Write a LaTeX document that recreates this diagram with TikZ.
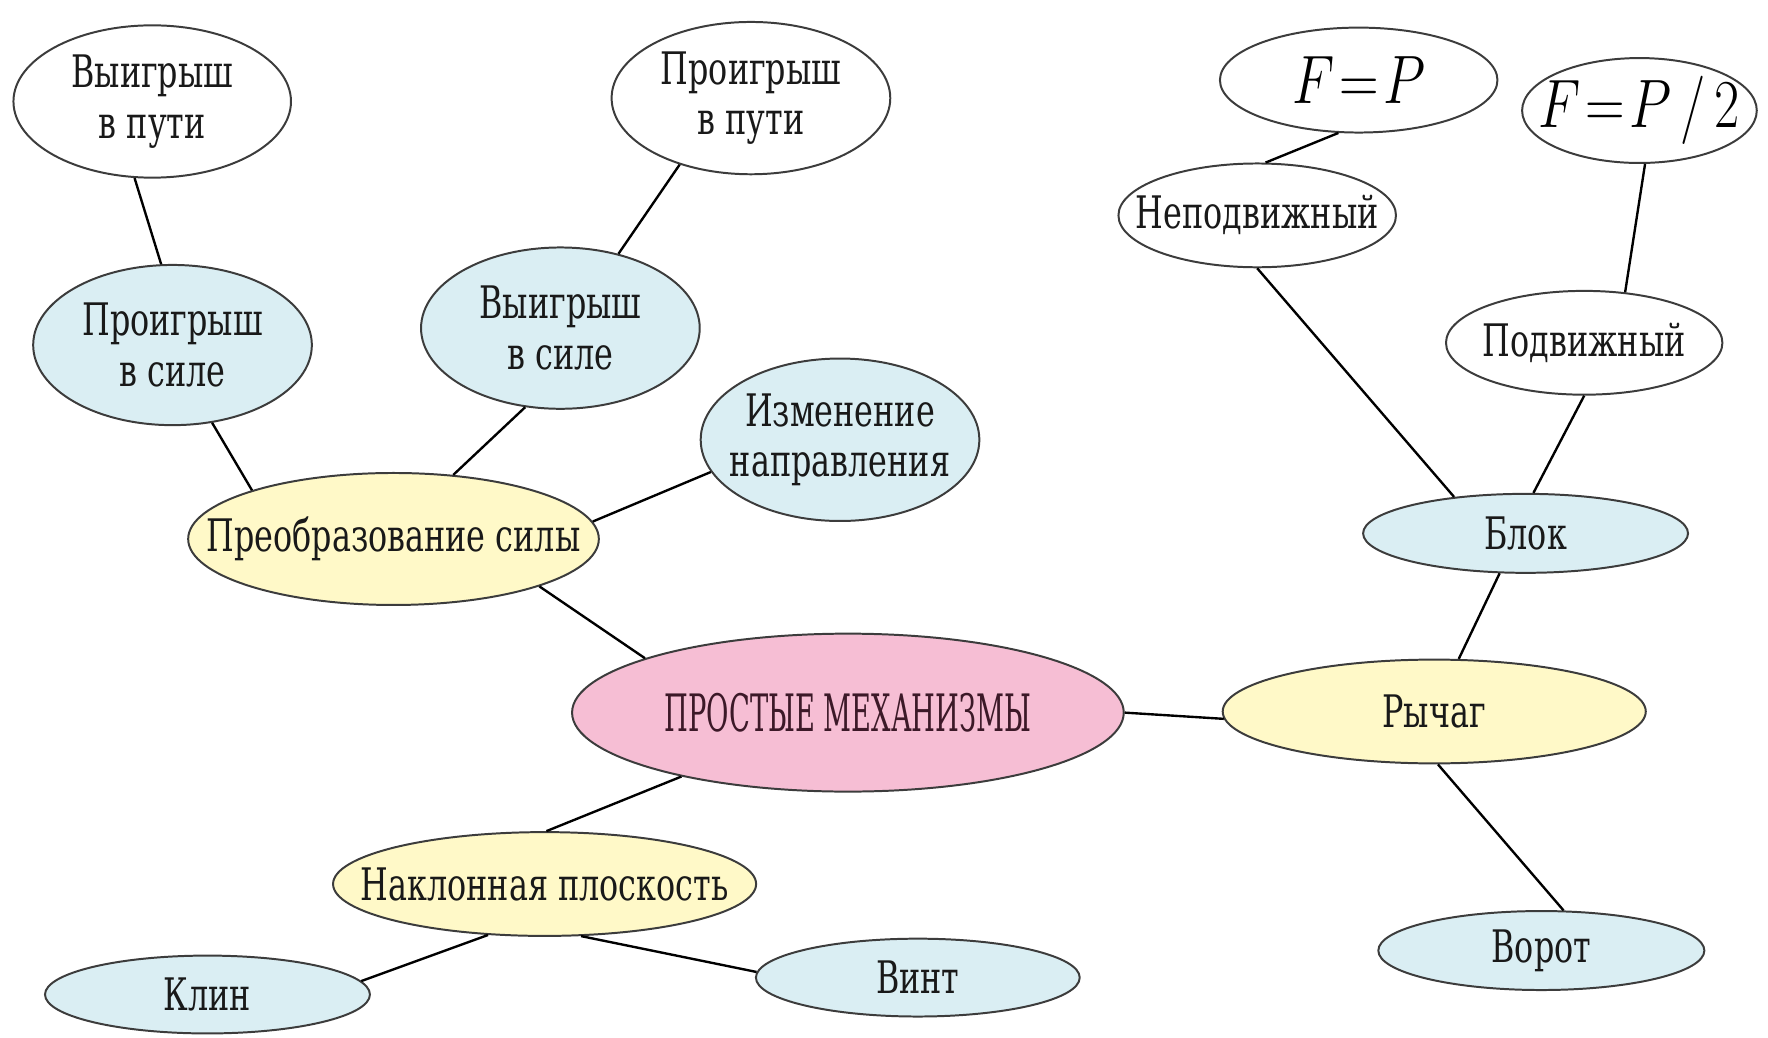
\documentclass[tikz,border=0pt]{standalone}
\usepackage{fontspec}
\setmainfont{DejaVu Serif}[FakeStretch=0.71]
\newfontfamily\capsfont{DejaVu Serif}[FakeStretch=0.53]
\usepackage{graphicx}
\usepackage{xcolor}
\usepackage{tikz}
\usetikzlibrary{shapes.geometric}
\usetikzlibrary{positioning}
\definecolor{lblue}{RGB}{218,238,243}
\definecolor{lyellow}{RGB}{255,249,200}
\definecolor{lpink}{RGB}{246,190,212}
\definecolor{bord}{RGB}{60,60,60}
\definecolor{maroon}{RGB}{60,25,40}
\newcommand{\bigmath}[1]{\scalebox{0.8}[1]{$\thickmuskip=1.5mu #1$}}

\begin{document}
\begin{tikzpicture}[x=0.01cm, y=-0.01cm,
	ell/.style={ellipse, draw=bord, line width=0.5pt, inner sep=0pt},
	wnode/.style={ell, fill=white},
	bnode/.style={ell, fill=lblue},
	ynode/.style={ell, fill=lyellow},
	pnode/.style={ell, fill=lpink},
	every label/.style={align=center, font=\fontsize{11.3}{12.8}\selectfont, text=black!90},
	mathlbl/.style={font=\fontsize{16}{18}\selectfont, text=black},
	link/.style={line width=0.6pt}]
			\useasboundingbox (0,0) rectangle (1568,920);
			
			%nodes
			\node[wnode, minimum width=2.46cm, minimum height=1.35cm, label=center:{Выигрыш\\в пути}] (winpath) at (135,90) {};
			\node[wnode, minimum width=2.47cm, minimum height=1.35cm, label=center:{Проигрыш\\в пути}] (losepath) at (666,87) {};
			\node[bnode, minimum width=2.47cm, minimum height=1.42cm, label=center:{Проигрыш\\в силе}] (loseforce) at (153,306) {};
			\node[bnode, minimum width=2.47cm, minimum height=1.43cm, label=center:{Выигрыш\\в силе}] (winforce) at (497,291) {};
			\node[bnode, minimum width=2.47cm, minimum height=1.44cm, label=center:{Изменение\\направления}] (direction) at (745,390) {};
			\node[ynode, minimum width=3.64cm, minimum height=1.17cm, label=center:{Преобразование силы}] (transform) at (349,478) {};
			\node[pnode, minimum width=4.89cm, minimum height=1.40cm, label={[text=maroon, font=\capsfont\fontsize{13}{15}\selectfont]center:{ПРОСТЫЕ МЕХАНИЗМЫ}}] (simple) at (752,632) {};
			\node[ynode, minimum width=3.75cm, minimum height=0.92cm, label=center:{Наклонная плоскость}] (incline) at (483,784) {};
			\node[bnode, minimum width=2.88cm, minimum height=0.69cm, label=center:{Клин}] (wedge) at (184,882) {};
			\node[bnode, minimum width=2.87cm, minimum height=0.69cm, label=center:{Винт}] (screw) at (814,867) {};
			\node[ynode, minimum width=3.75cm, minimum height=0.92cm, label=center:{Рычаг}] (lever) at (1272,631) {};
			\node[bnode, minimum width=2.89cm, minimum height=0.70cm, label=center:{Ворот}] (winch) at (1367,843) {};
			\node[bnode, minimum width=2.88cm, minimum height=0.70cm, label=center:{Блок}] (pulley) at (1353,473) {};
			\node[wnode, minimum width=2.46cm, minimum height=0.92cm, label=center:{Неподвижный}] (fixed) at (1115,191) {};
			\node[wnode, minimum width=2.45cm, minimum height=0.92cm, label=center:{Подвижный}] (movable) at (1405,304) {};
			\node[wnode, minimum width=2.46cm, minimum height=0.93cm, label={[mathlbl]center:{\bigmath{F=P}}}] (fp) at (1205,71) {};
			\node[wnode, minimum width=2.08cm, minimum height=0.93cm, label={[mathlbl]center:{\bigmath{F=P\,/\,2}}}] (fphalf) at (1454,98) {};
			
			%links
			\draw[link] (winpath.-103) -- (loseforce.98);
			\draw[link] (loseforce.-63) -- (transform.161);
			\draw[link] (losepath.-137) -- (winforce.52);
			\draw[link] (winforce.-114) -- (transform.47);
			\draw[link] (direction.-166) -- (transform.5);
			\draw[link] (transform.-18) -- (simple.165);
			\draw[link] (simple.-159) -- (incline.88);
			\draw[link] (incline.-138) -- (wedge.5);
			\draw[link] (incline.-55) -- (screw.178);
			\draw[link] (simple.0) -- (lever.-178);
			\draw[link] (lever.65) -- (pulley.-123);
			\draw[link] (lever.-86) -- (winch.61);
			\draw[link] (pulley.153) -- (fixed.-90);
			\draw[link] (pulley.79) -- (movable.-90);
			\draw[link] (fixed.81) -- (fp.-111);
			\draw[link] (movable.51) -- (fphalf.-84);
\end{tikzpicture}
\end{document}
